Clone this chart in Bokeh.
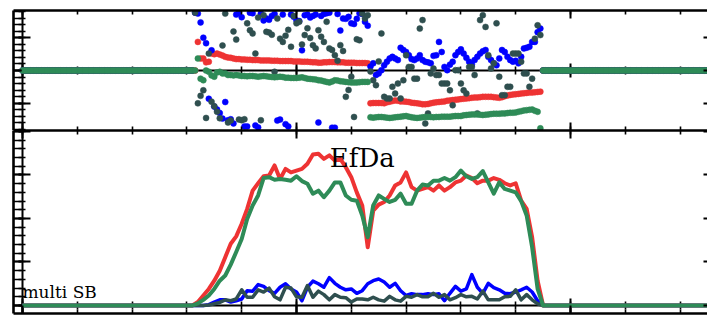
from bokeh.plotting import figure
from bokeh.models import LinearAxis, SingleIntervalTicker, Range1d, Label
from bokeh.layouts import column
from bokeh.embed import file_html
from bokeh.resources import INLINE

# ---------------- data ----------------
# sample index 0..125; amplitude / phase are zero outside samples 32..94
sample = list(range(126))
sample_mid = [s + 0.5 for s in sample]      # phase is also sampled half-way

LEAD = [0.0] * 32
TRAIL = [0.0] * 31
LEAD_MID = [0.0] * 31
TRAIL_MID = [0.0] * 31

amp_red = [0.8, 2.3, 3.8, 5.7, 8.0, 11.1, 14.2, 15.9, 18.8, 22.2,
           26.4, 28.1, 29.7, 29.9, 32.2, 29.1, 31.4, 30.6, 31.0, 31.4,
           32.6, 34.7, 34.9, 33.7, 34.5, 33.3, 33.7, 31.8, 29.5, 26.0,
           23.0, 13.4, 21.8, 23.2, 23.8, 25.3, 27.6, 28.3, 30.6, 27.2,
           26.4, 26.8, 27.2, 26.4, 27.6, 26.4, 27.2, 28.3, 28.7, 29.9,
           29.3, 28.1, 28.7, 28.7, 29.3, 28.9, 28.1, 27.6, 28.1, 24.1,
           22.2, 15.7, 5.7]
amp_green = [0.5, 1.3, 2.3, 3.8, 5.7, 6.9, 9.4, 12.3, 15.3, 19.9,
             23.0, 25.3, 29.3, 29.5, 28.9, 29.1, 28.9, 28.7, 29.7, 28.6,
             28.0, 25.7, 26.4, 24.9, 26.4, 28.3, 28.3, 25.3, 24.3, 24.1,
             20.7, 15.7, 23.0, 25.3, 24.5, 23.8, 24.3, 25.7, 23.4, 23.4,
             26.4, 27.8, 27.6, 28.7, 28.7, 29.3, 28.7, 29.5, 31.0, 29.7,
             29.1, 29.5, 30.9, 28.3, 25.7, 28.3, 26.8, 26.4, 26.0, 24.0,
             20.7, 13.4, 3.8]
amp_blue = [0.0, 0.0, 0.2, 0.8, 1.3, 1.3, 0.8, 1.1, 1.5, 3.4,
            3.3, 4.8, 4.4, 3.4, 2.8, 4.2, 5.0, 3.8, 3.1, 1.1,
            4.2, 5.6, 5.0, 4.2, 6.4, 5.1, 4.2, 3.6, 3.8, 2.8,
            3.4, 5.0, 5.7, 6.1, 5.4, 4.2, 5.1, 3.4, 2.3, 2.7,
            2.5, 2.5, 2.7, 2.5, 2.7, 1.1, 2.8, 4.4, 3.3, 3.8,
            7.1, 4.2, 2.8, 5.1, 4.1, 3.6, 2.8, 2.7, 3.1, 3.6,
            4.2, 3.1, 1.1]
amp_slate = [0.0, 0.0, 0.1, 0.4, 0.7, 1.3, 1.1, 1.5, 3.6, 1.9,
             1.9, 3.6, 3.1, 4.0, 2.0, 1.3, 4.2, 4.0, 2.0, 1.9,
             4.6, 1.9, 3.3, 2.5, 1.3, 2.5, 1.9, 1.8, 0.8, 1.5,
             1.5, 1.3, 1.9, 1.3, 1.0, 2.1, 1.3, 1.0, 2.1, 1.9,
             2.5, 2.0, 2.0, 2.8, 1.9, 2.5, 1.3, 1.8, 2.5, 2.0,
             2.1, 1.5, 3.3, 1.3, 1.3, 1.3, 2.0, 2.1, 3.6, 1.3,
             2.5, 1.3, 0.4]

# phase (deg) at samples 32..94
ph_red = [88, 37, 27, 50, 49, 42, 39, 35, 34, 33,
          32, 32, 31, 31, 30, 29, 29, 29, 28, 27,
          27, 25, 24, 25, 26, 26, 25, 24, 24, 23,
          23, 22, -100, -100, -101, -96, -92, -95, -96, -99,
          -101, -104, -103, -99, -97, -95, -92, -90, -88, -86,
          -84, -83, -81, -81, -82, -84, -79, -75, -73, -71,
          -69, -68, -66]
ph_green = [37, -30, -4, -19, -4, -9, -14, -14, -17, -18,
            -17, -19, -17, -19, -21, -19, -22, -23, -23, -21,
            -25, -27, -30, -33, -37, -30, -33, -35, -37, -37,
            -35, -35, -145, -143, -144, -146, -144, -142, -140, -144,
            -146, -144, -143, -144, -143, -142, -142, -140, -140, -137,
            -135, -135, -137, -135, -133, -133, -132, -130, -129, -125,
            -122, -120, -127]
ph_blue = [175, 101, -87, -111, -131, -97, -150, 172, 164, -172,
           176, -175, 154, 156, 174, -151, -165, 172, 154, 62,
           172, 168, -160, 174, 178, -176, 123, 159, 145, 159,
           174, 138, 22, -9, 16, 37, 37, 70, 57, 35,
           37, 32, 25, 45, 88, 11, 18, 47, 65, 39,
           18, 42, 59, 42, 22, 37, 57, 32, 30, 42,
           70, 88, 118]
ph_slate = [-101, -61, 52, -110, -147, 175, -154, 95, -153, 145,
            114, 163, 170, 117, -4, 98, 107, 73, 145, 80,
            130, 78, 124, 88, 68, 47, 78, -81, -19, 96,
            175, 170, -30, 28, -81, -86, -71, -86, 47, 11,
            -25, 155, -132, 6, -14, -40, -61, 1, -40, -71,
            11, -132, 170, 47, 22, -19, -76, -50, 52, 27,
            -9, -25, 139]

# phase (deg) at half-way samples 31.5..94.5
ph_red_mid = [0, 37, 25, 52, 52, 46, 40, 37, 35, 34,
              33, 32, 31, 31, 30, 30, 29, 29, 28, 28,
              27, 26, 25, 24, 25, 26, 25, 25, 24, 24,
              23, 23, -101, -100, -100, -98, -94, -93, -95, -97,
              -100, -102, -104, -101, -98, -96, -93, -91, -89, -87,
              -85, -83, -82, -81, -81, -83, -82, -77, -74, -72,
              -70, -68, -67, -65]
ph_green_mid = [0, -25, 0, -15, -6, -9, -14, -15, -15, -17,
                -17, -18, -18, -18, -20, -20, -20, -22, -23, -22,
                -23, -26, -28, -31, -35, -34, -31, -34, -36, -37,
                -36, -35, -144, -144, -143, -145, -145, -143, -141, -142,
                -145, -145, -143, -143, -143, -142, -142, -141, -140, -138,
                -136, -135, -136, -136, -134, -133, -132, -131, -130, -127,
                -123, -121, -124, -178]
ph_blue_mid = [178, 148, 84, 62, -120, -148, -153, -163, 178, -172,
               178, -169, 175, 160, 168, -154, 172, -172, 165, 152,
               170, 163, 172, 168, 176, -176, 174, 160, 165, 143,
               176, 150, 12, -14, 1, 27, 42, 32, 63, 47,
               32, 47, 27, 22, 47, 57, 1, 27, 57, 52,
               27, 32, 52, 63, 32, 16, 63, 42, 27, 22,
               68, 73, 88, 129]
ph_slate_mid = [178, -78, -146, -96, -127, 77, -160, 120, -151, -150,
                124, 52, -153, 119, 110, 160, 88, 125, 168, 150,
                109, 100, 68, 104, 150, 63, 30, 60, -60, -143,
                93, 160, -3, -45, 114, -86, -50, -40, -30, 11,
                -25, 129, -163, -9, -14, -40, -40, -107, 1, -61,
                11, -14, 155, 134, 6, 145, -76, -50, 52, 52,
                -9, -50, 98, 109]

C_RED = "#ee3333"
C_GREEN = "#2e8b57"
C_BLUE = "#0000ff"
C_SLATE = "#2f4f4f"


def full(a):
    return LEAD + list(a) + TRAIL


def full_mid(a):
    return LEAD_MID + list(a) + TRAIL_MID


XR = (-1.64, 125.0)


def hide_labels(ax):
    ax.major_label_text_font_size = "0px"
    ax.major_label_text_color = None
    ax.major_label_standoff = 0


def frame_axis(p, side, ticker, major_in, minor_in, line=True, minor=True):
    ax = LinearAxis(ticker=ticker)
    hide_labels(ax)
    ax.major_tick_in = major_in
    ax.major_tick_out = 0
    ax.minor_tick_in = minor_in
    ax.minor_tick_out = 0
    ax.major_tick_line_width = 2
    ax.minor_tick_line_width = 1.6
    ax.axis_line_width = 2.6
    if not line:
        ax.axis_line_color = None
    if not minor:
        ax.minor_tick_line_color = None
    p.add_layout(ax, side)
    return ax


def zero_axis(p, side, ticker, major_in, major_out, minor_in, minor_out):
    ax = LinearAxis(ticker=ticker, fixed_location=0)
    hide_labels(ax)
    ax.major_tick_in = major_in
    ax.major_tick_out = major_out
    ax.minor_tick_in = minor_in
    ax.minor_tick_out = minor_out
    ax.major_tick_line_width = 2
    ax.minor_tick_line_width = 1.6
    ax.axis_line_width = 2
    ax.level = "underlay"
    p.add_layout(ax, side)
    return ax


def make_fig(h, yr, top_border, bottom_border):
    p = figure(width=707, height=h, x_range=Range1d(*XR), y_range=Range1d(*yr),
               output_backend="svg", toolbar_location=None,
               x_axis_location=None, y_axis_location=None,
               min_border_left=13, min_border_right=0,
               min_border_top=top_border, min_border_bottom=bottom_border,
               outline_line_color=None, background_fill_color="white",
               border_fill_color="white")
    p.grid.visible = False
    return p


def xt():
    return SingleIntervalTicker(interval=50, num_minor_ticks=5)


# ---------------- top panel: phase ----------------
p1 = make_fig(130, (-184.6, 184.6), 10, 0)


def yt1():
    return SingleIntervalTicker(interval=100, num_minor_ticks=5)


zero_axis(p1, "below", xt(), 7, 7, 4, 4)
zero_axis(p1, "left", yt1(), 8, 4, 3, 4)
frame_axis(p1, "above", xt(), 8, 4)
frame_axis(p1, "below", xt(), 8, 4)
frame_axis(p1, "left", yt1(), 8, 8)
frame_axis(p1, "right", yt1(), 4, 0, line=False, minor=False)

for vals, mids, col in ((ph_red, ph_red_mid, C_RED), (ph_blue, ph_blue_mid, C_BLUE),
                        (ph_slate, ph_slate_mid, C_SLATE), (ph_green, ph_green_mid, C_GREEN)):
    p1.scatter(sample + sample_mid, full(vals) + full_mid(mids), size=6,
               fill_color=col, line_color=col, line_width=0.5)

# ---------------- bottom panel: amplitude ----------------
p2 = make_fig(185, (-1.84, 40.23), 0, 2)


def yt2():
    return SingleIntervalTicker(interval=10, num_minor_ticks=5)


zero_axis(p2, "below", xt(), 7, 7, 4, 4)
zero_axis(p2, "left", yt2(), 8, 4, 3, 4)
frame_axis(p2, "above", xt(), 8, 4)
frame_axis(p2, "below", xt(), 8, 4)
frame_axis(p2, "left", yt2(), 8, 8)
frame_axis(p2, "right", yt2(), 4, 0, line=False, minor=False)

for vals, col, w in ((amp_red, C_RED, 4), (amp_blue, C_BLUE, 3.5),
                     (amp_slate, C_SLATE, 3.5), (amp_green, C_GREEN, 4)):
    p2.line(sample, full(vals), line_color=col, line_width=w, line_join="round")

p2.add_layout(Label(x=62, y=34.0, text="EfDa", text_font="DejaVu Serif",
                    text_font_size="26px", text_align="center",
                    text_baseline="alphabetic", text_color="black"))
p2.add_layout(Label(x=0, y=3.0, text="multi SB", text_font="DejaVu Serif",
                    text_font_size="17px", text_align="left",
                    text_baseline="alphabetic", text_color="black"))

layout = column(p1, p2, spacing=0)
open("out.html", "w").write(file_html(layout, INLINE))
